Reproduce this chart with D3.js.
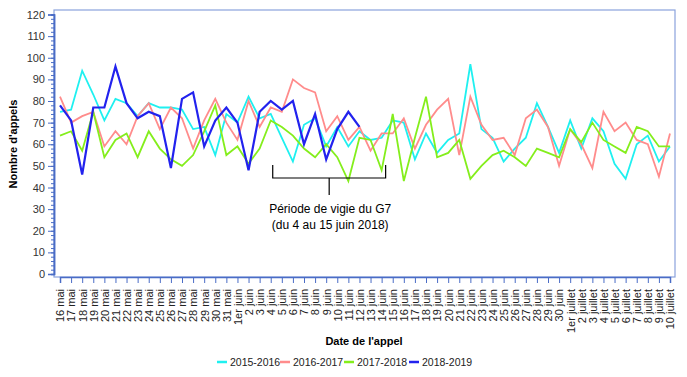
<!DOCTYPE html>
<html>
<head>
<meta charset="utf-8">
<script src="https://cdn.jsdelivr.net/npm/d3@7"></script>
<style>
  body { margin: 0; background: #fff; }
  svg { display: block; font-family: "Liberation Sans", Arial, sans-serif; }
</style>
</head>
<body>
<svg width="687" height="377"></svg>
<script>
// Dates (x categories)
const dates = [
    "16 mai", "17 mai", "18 mai", "19 mai", "20 mai", "21 mai", "22 mai", "23 mai",
    "24 mai", "25 mai", "26 mai", "27 mai", "28 mai", "29 mai", "30 mai", "31 mai",
    "1er juin", "2 juin", "3 juin", "4 juin", "5 juin", "6 juin", "7 juin", "8 juin",
    "9 juin", "10 juin", "11 juin", "12 juin", "13 juin", "14 juin", "15 juin", "16 juin",
    "17 juin", "18 juin", "19 juin", "20 juin", "21 juin", "22 juin", "23 juin", "24 juin",
    "25 juin", "26 juin", "27 juin", "28 juin", "29 juin", "30 juin", "1er juillet", "2 juillet",
    "3 juillet", "4 juillet", "5 juillet", "6 juillet", "7 juillet", "8 juillet", "9 juillet", "10 juillet"
];

// Number of calls per season
const s2015 = [75, 76, 94, 83, 71, 81, 79, 73, 79, 77, 77, 76, 67, 68, 55, 74,
    70, 82, 72, 74, 63, 52, 69, 72, 59, 68, 59, 66, 62, 63, 71, 70,
    53, 65, 56, 62, 65, 97, 67, 63, 52, 58, 63, 79, 68, 56, 71, 58,
    72, 66, 51, 44, 60, 64, 52, 59];
const s2016 = [82, 70, 73, 75, 59, 66, 60, 73, 79, 67, 77, 72, 58, 71, 81, 70,
    62, 80, 68, 77, 75, 90, 86, 84, 66, 73, 62, 68, 57, 65, 65, 72,
    58, 69, 76, 81, 55, 82, 69, 62, 63, 55, 72, 76, 68, 50, 67, 60,
    49, 75, 66, 70, 62, 60, 45, 65];
const s2017 = [64, 66, 57, 75, 54, 62, 65, 54, 66, 58, 53, 50, 55, 66, 78, 55,
    59, 51, 58, 71, 68, 64, 58, 54, 60, 54, 43, 63, 62, 48, 74, 43,
    63, 82, 54, 56, 62, 44, 50, 55, 57, 54, 50, 58, 56, 54, 67, 61,
    70, 62, 59, 56, 68, 66, 59, 59];
const s2018 = [78, 71, 46, 77, 77, 96, 79, 72, 75, 73, 49, 81, 84, 59, 71, 77,
    70, 48, 75, 80, 76, 80, 60, 74, 53, 67, 75, 68];

const seriesNames = ["2015-2016", "2016-2017", "2017-2018", "2018-2019"];
const seriesColors = ["#1ff0f0", "#ff8c8c", "#84ee1c", "#2222ee"];
const seriesValues = [s2015, s2016, s2017, s2018];

const yTicks = d3.range(0, 121, 10);

const svg = d3.select("svg");
const axisColor = "#4a6cc6";

const x = d3.scalePoint().domain(dates).range([60, 670]);
const y = d3.scaleLinear().domain([0, 120]).range([274, 14.5]);

// plot frame
svg.append("rect")
    .attr("x", 54).attr("y", 10)
    .attr("width", 621).attr("height", 267)
    .attr("fill", "none")
    .attr("stroke", "#8aa2dc")
    .attr("stroke-width", 1.2);

// y axis: minor then major ticks
const yMinor = svg.append("g")
    .attr("transform", "translate(54,0)")
    .call(d3.axisLeft(y).tickValues(d3.range(0, 121, 2)).tickSize(3).tickFormat(""));
const yMajor = svg.append("g")
    .attr("transform", "translate(54,0)")
    .call(d3.axisLeft(y).tickValues(yTicks).tickSize(6).tickPadding(3));
[yMinor, yMajor].forEach(g => {
    g.select(".domain").attr("stroke", axisColor).attr("stroke-width", 1.5);
    g.selectAll(".tick line").attr("stroke", axisColor);
});
yMajor.selectAll("text").attr("font-size", 11).attr("fill", "#333");

// x axis
const xAxis = svg.append("g")
    .attr("transform", "translate(0,277)")
    .call(d3.axisBottom(x).tickSize(6));
xAxis.select(".domain").attr("stroke", axisColor).attr("stroke-width", 1.5);
xAxis.selectAll(".tick line").attr("stroke", axisColor);
xAxis.selectAll("text")
    .attr("font-size", 11)
    .attr("fill", "#222")
    .attr("transform", "rotate(-90)")
    .attr("text-anchor", "end")
    .attr("x", -12)
    .attr("y", 0)
    .attr("dy", "0.35em");

// lines
const line = d3.line()
    .x((d, i) => x(dates[i]))
    .y(d => y(d));

seriesValues.forEach((vals, k) => {
    svg.append("path")
        .datum(vals)
        .attr("fill", "none")
        .attr("stroke", seriesColors[k])
        .attr("stroke-width", k === 3 ? 2.2 : 1.8)
        .attr("stroke-linejoin", "miter")
        .attr("d", line);
});

// G7 bracket annotation
const bx1 = x("4 juin") + 2;
const bx2 = x("14 juin") + 4;
const by = 178;
const bracket = svg.append("g").attr("stroke", "#000").attr("stroke-width", 1.2).attr("fill", "none");
bracket.append("path")
    .attr("d", `M${bx1},165V${by}H${bx2}V165`);
bracket.append("line")
    .attr("x1", (bx1 + bx2) / 2).attr("x2", (bx1 + bx2) / 2)
    .attr("y1", by).attr("y2", 195);

svg.append("text")
    .attr("x", (bx1 + bx2) / 2 + 1).attr("y", 213)
    .attr("text-anchor", "middle")
    .attr("font-size", 12)
    .text("Période de vigie du G7");
svg.append("text")
    .attr("x", (bx1 + bx2) / 2 + 1).attr("y", 229)
    .attr("text-anchor", "middle")
    .attr("font-size", 12)
    .text("(du 4 au 15 juin 2018)");

// axis titles
svg.append("text")
    .attr("transform", "translate(17,144) rotate(-90)")
    .attr("text-anchor", "middle")
    .attr("font-size", 11)
    .attr("font-weight", "bold")
    .text("Nombre d'appels");
svg.append("text")
    .attr("x", 364).attr("y", 345)
    .attr("text-anchor", "middle")
    .attr("font-size", 11)
    .attr("font-weight", "bold")
    .text("Date de l'appel");

// legend
const legendX = [217, 280, 344, 409];
const legend = svg.append("g");
seriesNames.forEach((name, k) => {
    legend.append("line")
        .attr("x1", legendX[k]).attr("x2", legendX[k] + 10)
        .attr("y1", 362).attr("y2", 362)
        .attr("stroke", seriesColors[k])
        .attr("stroke-width", 2.5);
    legend.append("text")
        .attr("x", legendX[k] + 13).attr("y", 366)
        .attr("font-size", 10.5)
        .attr("fill", "#222")
        .text(name);
});
</script>
</body>
</html>
